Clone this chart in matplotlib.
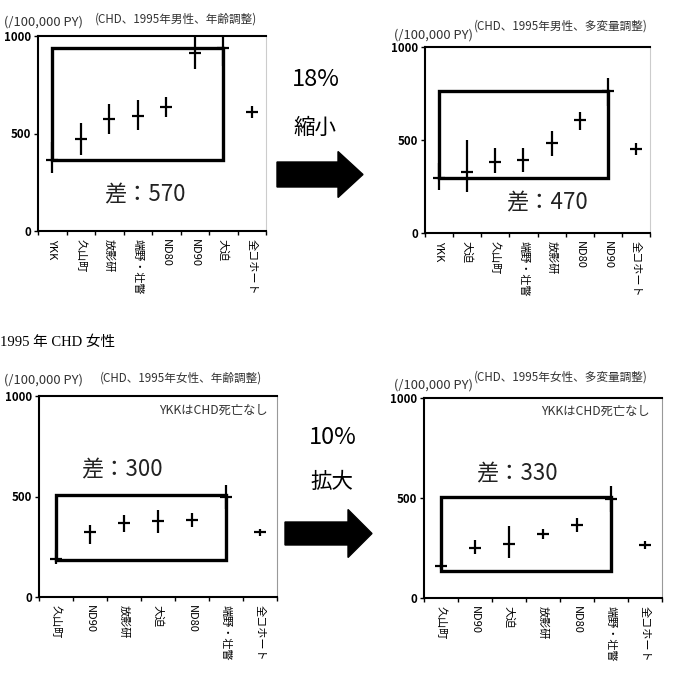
import matplotlib
matplotlib.use('Agg')
import matplotlib.pyplot as plt
from matplotlib.patches import Rectangle, FancyArrow

plt.rcParams['font.family'] = ['Noto Sans CJK JP', 'DejaVu Sans']

W, H = 678, 677

# ---- data (per 100,000 person-years) ----
tl_labels = ['YKK', '久山町', '放影研', '端野・壮瞥', 'ND80', 'ND90', '大迫', '全コホート']
tl_mid = [365, 470, 573, 591, 638, 915, 937, 609]
tl_lo = [300, 390, 497, 518, 586, 829, 845, 578]
tl_hi = [455, 556, 650, 672, 685, 1010, 1050, 641]

tr_labels = ['YKK', '大迫', '久山町', '端野・壮瞥', '放影研', 'ND80', 'ND90', '全コホート']
tr_mid = [295, 330, 384, 393, 486, 607, 763, 450]
tr_lo = [232, 223, 321, 330, 414, 554, 682, 420]
tr_hi = [375, 500, 459, 459, 548, 652, 836, 482]

bl_labels = ['久山町', 'ND90', '放影研', '大迫', 'ND80', '端野・壮瞥', '全コホート']
bl_mid = [191, 324, 369, 379, 382, 498, 321]
bl_lo = [166, 266, 324, 316, 349, 440, 302]
bl_hi = [233, 357, 407, 435, 419, 556, 336]

br_labels = ['久山町', 'ND90', '大迫', '放影研', 'ND80', '端野・壮瞥', '全コホート']
br_mid = [160, 250, 272, 322, 363, 497, 263]
br_lo = [143, 222, 202, 293, 330, 430, 243]
br_hi = [177, 288, 358, 347, 402, 558, 283]

# range boxes: (first index, last index, low, high)
tl_box = (0, 6, 364, 937)
tr_box = (0, 6, 295, 765)
bl_box = (0, 5, 186, 507)
br_box = (0, 5, 133, 505)

diff_texts = ['差：570', '差：470', '差：300', '差：330']
titles = ['(CHD、1995年男性、年齢調整)', '(CHD、1995年男性、多変量調整)',
          '(CHD、1995年女性、年齢調整)', '(CHD、1995年女性、多変量調整)']


def px_rect(left, top, right, bottom):
    return [left / W, 1 - bottom / H, (right - left) / W, (bottom - top) / H]


fig = plt.figure(figsize=(W / 100, H / 100), dpi=100)


def panel(rect, labels, mid, lo, hi, box, diff, diff_xy, note=None, right_col='#cccccc'):
    ax = fig.add_axes(px_rect(*rect))
    n = len(labels)
    x = list(range(n))
    yerr = [[m - l for m, l in zip(mid, lo)], [h - m for m, h in zip(mid, hi)]]
    ax.errorbar(x, mid, yerr=yerr, fmt='none', ecolor='black', elinewidth=1.6, capsize=0)
    ax.plot(x, mid, ls='none', marker='_', ms=9, mew=1.6, color='black')
    i0, i1, b_lo, b_hi = box
    ax.add_patch(Rectangle((i0, b_lo), i1 - i0, b_hi - b_lo, fill=False,
                           ec='black', lw=2.4, zorder=3))
    ax.text(diff_xy[0], diff_xy[1], diff, fontsize=16, ha='center', va='center', color='#222222')
    if note:
        ax.text(note[0], note[1], 'YKKはCHD死亡なし', fontsize=8.8, ha='right', va='center',
                color='#333333')
    ax.set_xlim(-0.5, n - 0.5)
    ax.set_ylim(0, 1000)
    ax.set_yticks([0, 500, 1000])
    ax.set_yticklabels(['0', '500', '1000'], fontsize=8.3, fontweight='bold')
    ax.set_xticks(x)
    ax.set_xticklabels(labels, rotation=270, fontsize=8, va='top', ha='center')
    ax.set_xticks([i - 0.5 for i in range(n + 1)], minor=True)
    ax.tick_params(axis='x', which='major', length=0, pad=6)
    ax.tick_params(axis='x', which='minor', length=3, width=1, direction='out')
    ax.tick_params(axis='y', length=3, width=1, direction='out', pad=2)
    for s in ['left', 'bottom', 'top']:
        ax.spines[s].set_linewidth(1.5)
    ax.spines['right'].set_color(right_col)
    ax.spines['right'].set_linewidth(0.8)
    return ax


panel((38, 36, 266, 231), tl_labels, tl_mid, tl_lo, tl_hi, tl_box, diff_texts[0], (3.25, 185))
panel((425, 47, 650, 233), tr_labels, tr_mid, tr_lo, tr_hi, tr_box, diff_texts[1], (3.84, 161))
panel((39, 396, 277, 597), bl_labels, bl_mid, bl_lo, bl_hi, bl_box, diff_texts[2], (1.94, 631),
      note=(6.24, 930), right_col='#999999')
panel((424, 398, 662, 598), br_labels, br_mid, br_lo, br_hi, br_box, diff_texts[3], (2.24, 622),
      note=(6.15, 935), right_col='#999999')

# overlay in pixel coordinates for titles, arrows and notes
ov = fig.add_axes([0, 0, 1, 1], zorder=-1)
ov.set_xlim(0, W)
ov.set_ylim(H, 0)
ov.axis('off')

py_kw = dict(fontsize=9.3, va='center', ha='left', color='#333333')
tt_kw = dict(fontsize=8.4, va='center', ha='left', color='#333333')
ov.text(4, 22, '(/100,000 PY)', **py_kw)
ov.text(95, 19, titles[0], **tt_kw)
ov.text(394, 35, '(/100,000 PY)', **py_kw)
ov.text(474, 26, titles[1], **tt_kw)
ov.text(4, 380, '(/100,000 PY)', **py_kw)
ov.text(100, 378, titles[2], **tt_kw)
ov.text(394, 385, '(/100,000 PY)', **py_kw)
ov.text(474, 377, titles[3], **tt_kw)

ov.text(0, 342, '1995 年 CHD 女性', fontsize=10.5, va='center', ha='left',
        family=['Liberation Serif', 'Noto Sans CJK JP'])

ov.text(316, 80, '18%', fontsize=17, ha='center', va='center')
ov.text(315, 128, '縮小', fontsize=15.5, ha='center', va='center')
ov.add_patch(FancyArrow(277, 174.5, 86, 0, width=25, head_width=46, head_length=25,
                        length_includes_head=True, color='black'))

ov.text(333, 437, '10%', fontsize=17, ha='center', va='center')
ov.text(332, 482, '拡大', fontsize=15.5, ha='center', va='center')
ov.add_patch(FancyArrow(285, 533.5, 87, 0, width=23, head_width=48, head_length=24,
                        length_includes_head=True, color='black'))

fig.savefig('out.png', dpi=100)
